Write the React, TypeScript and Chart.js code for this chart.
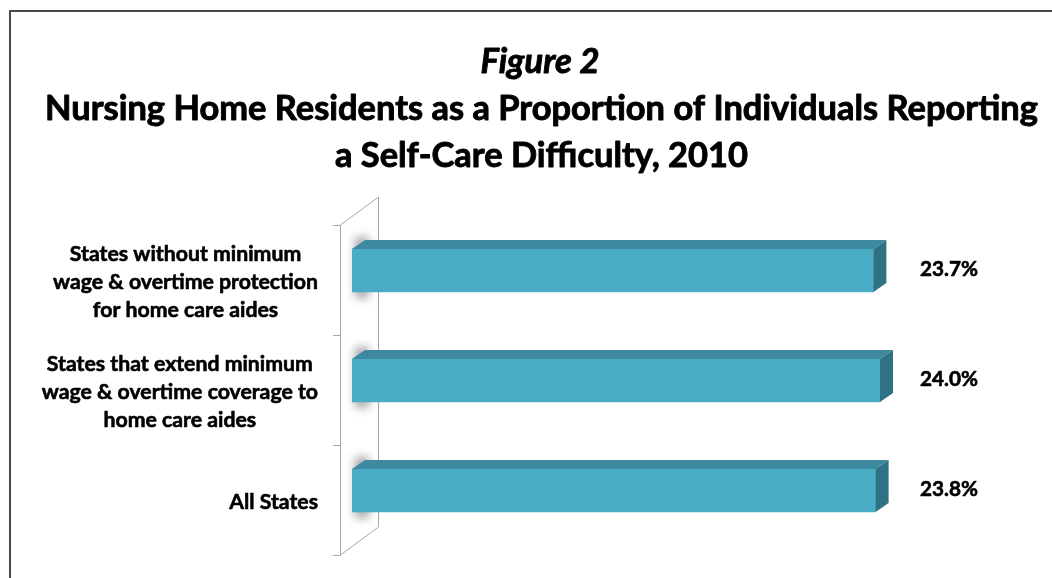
import React, { useEffect, useRef } from "react";
import { Chart, registerables } from "chart.js";

Chart.register(...registerables);

const titleLines = [
  "Figure 2",
  "Nursing Home Residents as a Proportion of Individuals Reporting",
  "a Self-Care Difficulty, 2010",
];
const categories: string[][] = [
  ["States without minimum", "wage & overtime protection", "for home care aides"],
  ["States that extend minimum", "wage & overtime coverage to", "home care aides"],
  ["All States"],
];
const values = [23.7, 24.0, 23.8];
const valueLabels = values.map((v) => v.toFixed(1) + "%");
const xMin = 0;
const xMax = 30;
const labelAtValue = 27;

const FONT = "Lato, 'Open Sans', sans-serif";
const FRONT = "#4bacc6";
const TOP = "#3d8aa0";
const SIDE = "#2f7284";
const WALL = "#a6a6a6";

function fitFont(ctx: CanvasRenderingContext2D, text: string, target: number, style: string) {
  ctx.font = `${style} 100px ${FONT}`;
  const w = ctx.measureText(text).width;
  return (100 * target) / w;
}

function boldText(ctx: CanvasRenderingContext2D, text: string, x: number, y: number, sw: number) {
  ctx.lineWidth = sw;
  ctx.strokeStyle = ctx.fillStyle as string;
  ctx.lineJoin = "round";
  ctx.strokeText(text, x, y);
  ctx.fillText(text, x, y);
}

const threeD = {
  id: "threeD",
  beforeDraw(chart: any) {
    const ctx = chart.ctx as CanvasRenderingContext2D;
    ctx.save();
    ctx.fillStyle = "#fff";
    ctx.fillRect(0, 0, chart.width, chart.height);
    // frame
    ctx.strokeStyle = "#4a4a4a";
    ctx.lineWidth = 2;
    ctx.beginPath();
    ctx.moveTo(10, chart.height);
    ctx.lineTo(10, 11);
    ctx.lineTo(chart.width, 11);
    ctx.stroke();
    // title
    ctx.fillStyle = "#000";
    ctx.textAlign = "center";
    ctx.textBaseline = "alphabetic";
    const s0 = fitFont(ctx, titleLines[0], 119, "italic bold");
    ctx.font = `italic bold ${s0}px ${FONT}`;
    boldText(ctx, titleLines[0], 540, 73, 0.9);
    const s1 = fitFont(ctx, titleLines[1], 993, "bold");
    ctx.font = `bold ${s1}px ${FONT}`;
    boldText(ctx, titleLines[1], 541.5, 120, 0.9);
    boldText(ctx, titleLines[2], 541.5, 167, 0.9);
    ctx.restore();
  },
  beforeDatasetsDraw(chart: any) {
    const ctx = chart.ctx as CanvasRenderingContext2D;
    const ys = chart.scales.y;
    const area = chart.chartArea;
    const step = ys.getPixelForValue(1) - ys.getPixelForValue(0);
    const n = categories.length;
    const fx = area.left - 12;
    const fTop = ys.getPixelForValue(0) - step / 2 + 9.5;
    const fBot = ys.getPixelForValue(n - 1) + step / 2 + 9.5;
    const bx = fx + 38;
    const dy = 28;
    ctx.save();
    ctx.strokeStyle = WALL;
    ctx.lineWidth = 1;
    ctx.beginPath();
    ctx.moveTo(fx + 0.5, fTop);
    ctx.lineTo(fx + 0.5, fBot);
    ctx.moveTo(bx + 0.5, fTop - dy);
    ctx.lineTo(bx + 0.5, fBot - dy);
    ctx.moveTo(fx + 0.5, fTop);
    ctx.lineTo(bx + 0.5, fTop - dy);
    ctx.moveTo(fx + 0.5, fBot);
    ctx.lineTo(bx + 0.5, fBot - dy);
    for (let i = 0; i <= n; i++) {
      const yy = Math.round(fTop + i * step) + 0.5;
      ctx.moveTo(fx - 7, yy);
      ctx.lineTo(fx + 0.5, yy);
    }
    ctx.stroke();
    // soft shadows of bars on back wall
    const meta = chart.getDatasetMeta(0);
    meta.data.forEach((el: any) => {
      const p = el.getProps(["x", "y", "base", "height"], true);
      ctx.save();
      ctx.filter = "blur(5px)";
      ctx.fillStyle = "rgba(0,0,0,0.35)";
      ctx.fillRect(p.base + 3, p.y - p.height / 2 - 12, 14, p.height + 18);
      ctx.restore();
    });
    ctx.restore();
  },
  afterDatasetsDraw(chart: any) {
    const ctx = chart.ctx as CanvasRenderingContext2D;
    const xs = chart.scales.x;
    const ys = chart.scales.y;
    const meta = chart.getDatasetMeta(0);
    const dx = 13;
    const dy = 9;
    ctx.save();
    meta.data.forEach((el: any, i: number) => {
      const p = el.getProps(["x", "y", "base", "height"], true);
      const t = p.y - p.height / 2;
      const b = p.y + p.height / 2;
      ctx.fillStyle = TOP;
      ctx.beginPath();
      ctx.moveTo(p.base, t);
      ctx.lineTo(p.x, t);
      ctx.lineTo(p.x + dx, t - dy);
      ctx.lineTo(p.base + dx, t - dy);
      ctx.closePath();
      ctx.fill();
      ctx.fillStyle = SIDE;
      ctx.beginPath();
      ctx.moveTo(p.x, t);
      ctx.lineTo(p.x + dx, t - dy);
      ctx.lineTo(p.x + dx, b - dy);
      ctx.lineTo(p.x, b);
      ctx.closePath();
      ctx.fill();
      // value label
      const vs = fitFont(ctx, valueLabels[i], 58, "bold");
      ctx.font = `bold ${vs}px ${FONT}`;
      ctx.fillStyle = "#000";
      ctx.textAlign = "center";
      ctx.textBaseline = "alphabetic";
      boldText(ctx, valueLabels[i], xs.getPixelForValue(labelAtValue) + 3, p.y + 5.5, 0.6);
    });
    // category labels
    const ls = fitFont(ctx, "wage & overtime protection", 265, "bold");
    ctx.font = `bold ${ls}px ${FONT}`;
    ctx.fillStyle = "#000";
    ctx.textBaseline = "alphabetic";
    const right = 318;
    const lh = 28;
    categories.forEach((lines, i) => {
      const c = ys.getPixelForValue(i) + 9.5;
      const maxW = Math.max(...lines.map((l) => ctx.measureText(l).width));
      const cx = right - maxW / 2;
      ctx.textAlign = "center";
      lines.forEach((l, j) => {
        const yy = c + 9 + (j - (lines.length - 1) / 2) * lh;
        boldText(ctx, l, cx, yy, 0.6);
      });
    });
    ctx.restore();
  },
};

export default function App() {
  const ref = useRef<HTMLCanvasElement>(null);
  useEffect(() => {
    if (!ref.current) return;
    const chart = new Chart(ref.current, {
      type: "bar",
      data: {
        labels: categories.map((c) => c.join(" ")),
        datasets: [
          {
            data: values,
            backgroundColor: FRONT,
            borderWidth: 0,
            barThickness: 43,
          },
        ],
      },
      options: {
        indexAxis: "y",
        animation: false,
        responsive: false,
        devicePixelRatio: 1,
        layout: { padding: { left: 352, right: 40, top: 215.5, bottom: 32.5 } },
        plugins: { legend: { display: false }, tooltip: { enabled: false }, title: { display: false } },
        scales: {
          x: { display: false, min: xMin, max: xMax },
          y: { display: false },
        },
      },
      plugins: [threeD],
    });
    return () => chart.destroy();
  }, []);
  return (
    <div style={{ position: "absolute", left: 0, top: 0, width: 1052, height: 578 }}>
      <canvas ref={ref} width={1052} height={578} style={{ display: "block" }} />
    </div>
  );
}
